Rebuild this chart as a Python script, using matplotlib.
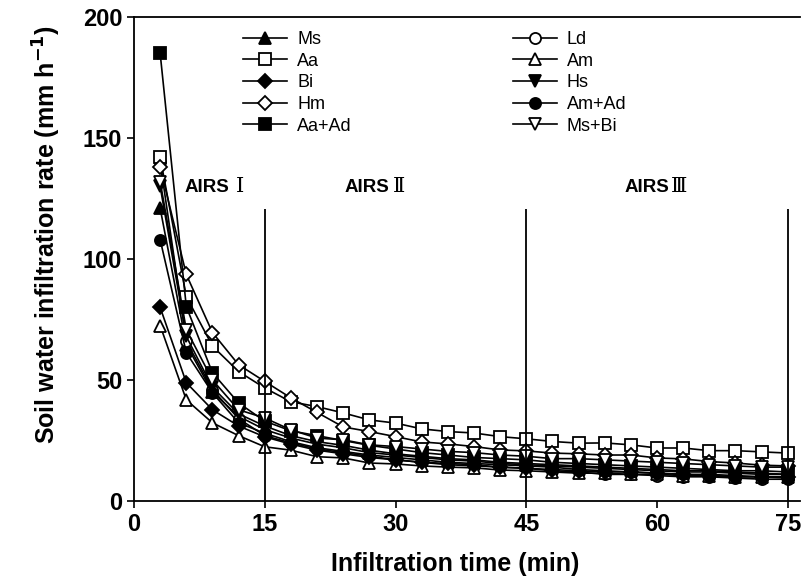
import matplotlib
matplotlib.use("Agg")
import matplotlib.pyplot as plt
from matplotlib.offsetbox import TextArea, HPacker, AnnotationBbox

plt.rcParams['font.family'] = ['Liberation Sans', 'DejaVu Sans']

time = [3, 6, 9, 12, 15, 18, 21, 24, 27, 30, 33, 36, 39, 42, 45, 48, 51, 54, 57, 60, 63, 66, 69, 72, 75]

Ms = [121, 64.6, 45, 35, 29.5, 26, 23.5, 22, 20, 19, 18, 17, 16.5, 15.5, 15, 14.5, 14, 13.5, 13, 12.5, 12, 12, 11.5, 11, 11]
Ld = [140, 66, 46, 34, 27, 24, 21.5, 20, 18.5, 17, 16, 15, 14.5, 14, 13.5, 12.5, 12, 11, 11, 10.5, 10, 10, 9.5, 9, 9]
Aa = [142, 84.5, 64, 53.5, 46.7, 41, 39, 36.4, 33.5, 32.2, 29.8, 28.7, 28.1, 26.6, 25.7, 24.6, 23.9, 24, 23.2, 21.9, 21.9, 20.8, 20.8, 20.3, 19.8]
Am = [72.5, 41.8, 32.3, 27, 22.4, 21, 18.3, 17.8, 15.7, 15.3, 14.5, 14, 13.7, 12.8, 12.5, 12, 11.5, 11.5, 11, 11, 10.5, 10.5, 10, 10, 10]
Bi = [80, 48.9, 37.7, 31, 26.5, 23.5, 21, 19.5, 18, 17, 16, 15.5, 15, 14, 13.5, 13, 12.5, 12, 12, 11.5, 11, 11, 10.5, 10, 10]
Hs = [130, 68, 47, 36, 31, 27, 24.5, 23, 21, 19.5, 18.5, 17.5, 17, 16, 15.5, 15, 14.5, 14, 13.5, 13, 12.5, 12.5, 12, 11.5, 11]
Hm = [138, 93.6, 69.6, 56.3, 49.4, 42.6, 36.6, 30.6, 28.7, 26.6, 24.4, 23.6, 22.5, 21.1, 20.7, 19.8, 19.5, 19, 19, 17.8, 17.4, 16.3, 15.7, 14.8, 14.5]
AmAd = [108, 61.3, 44.7, 32.3, 28, 24.5, 22, 20.5, 19, 18, 17, 16, 15.5, 15, 14.5, 14, 13, 12.5, 12, 11.5, 11, 10.5, 10, 10, 9.5]
AaAd = [185, 80.3, 53, 40.5, 33, 29, 27, 25, 23, 21.5, 20, 19, 18, 17.5, 17, 16, 15.5, 15, 14.5, 14, 13.5, 13, 12.5, 12.5, 12]
MsBi = [132, 70.8, 50, 37.7, 34.3, 29.4, 26, 25.3, 23.2, 22.5, 21.5, 20.5, 20, 19, 18.5, 17.5, 17.5, 17, 16.5, 16, 15.5, 15, 14.5, 14, 14]

series_names = ['Ms', 'Ld', 'Aa', 'Am', 'Bi', 'Hs', 'Hm', 'Am+Ad', 'Aa+Ad', 'Ms+Bi']
series_vals = [Ms, Ld, Aa, Am, Bi, Hs, Hm, AmAd, AaAd, MsBi]
markers = ['^', 'o', 's', '^', 'D', 'v', 'D', 'o', 's', 'v']
faces = ['black', 'white', 'white', 'white', 'black', 'black', 'white', 'black', 'black', 'white']
sizes = [8, 8, 8, 8, 7, 8, 7, 8, 8, 8]

xticks = [0, 15, 30, 45, 60, 75]
yticks = [0, 50, 100, 150, 200]
stage_bounds = [15, 45, 75]
stage_labels = [('AIRS', 'Ⅰ', 5.8, 130, 5), ('AIRS', 'Ⅱ', 24.2, 130, 2), ('AIRS', 'Ⅲ', 56.3, 130, 1)]

fig = plt.figure(figsize=(8.01, 5.85), dpi=100)
ax = fig.add_axes([134/801, 1-501/585, (800-134)/801, (501-17)/585])

handles = {}
for name, vals, m, fc, ms in zip(series_names, series_vals, markers, faces, sizes):
    h, = ax.plot(time, vals, marker=m, markerfacecolor=fc, markeredgecolor='black',
                 markeredgewidth=1.3, color='black', lw=1.2, markersize=ms, label=name)
    handles[name] = h

ax.vlines(stage_bounds, 0, 120.5, color='black', lw=1.3)

for a, r, x, y, sep in stage_labels:
    t1 = TextArea(a, textprops=dict(fontsize=13.5, fontweight='bold', family='Liberation Sans'))
    t2 = TextArea(r, textprops=dict(fontsize=15, family=['DejaVu Serif', 'Noto Sans CJK SC']))
    box = HPacker(children=[t1, t2], align='baseline', pad=0, sep=sep)
    ab = AnnotationBbox(box, (x, y), xycoords='data', box_alignment=(0, 0.5), frameon=False, pad=0)
    ax.add_artist(ab)

order = ['Ms', 'Aa', 'Bi', 'Hm', 'Aa+Ad', 'Ld', 'Am', 'Hs', 'Am+Ad', 'Ms+Bi']
leg = ax.legend([handles[n] for n in order], order, ncol=2, frameon=False,
                loc='upper left', bbox_to_anchor=(0.1637, 0.971), fontsize=13,
                handlelength=2.45, handletextpad=0.55, columnspacing=8.9,
                labelspacing=0.26, borderaxespad=0, borderpad=0)

ax.set_xlim(0, 76.4)
ax.set_ylim(0, 200)
ax.set_xticks(xticks)
ax.set_yticks(yticks)
ax.tick_params(direction='out', length=5, width=1.2, labelsize=17)
for lab in ax.get_xticklabels() + ax.get_yticklabels():
    lab.set_fontweight('bold')
ax.spines['right'].set_visible(False)
for s in ['left', 'bottom', 'top']:
    ax.spines[s].set_linewidth(1.3)

ax.set_xlabel('Infiltration time (min)', fontsize=18, fontweight='bold')
ax.xaxis.set_label_coords(0.482, -0.105)
ax.set_ylabel('Soil water infiltration rate (mm h$^{\\mathbf{-1}}$)', fontsize=18, fontweight='bold')
ax.yaxis.set_label_coords(-0.107, 0.55)

fig.savefig('out.png', dpi=100)
